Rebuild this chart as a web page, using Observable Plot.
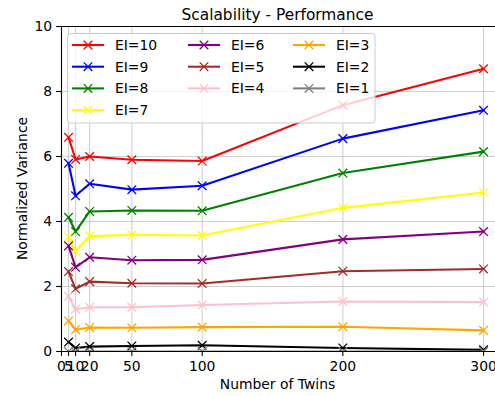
<!DOCTYPE html>
<html>
<head>
<meta charset="utf-8">
<script src="https://cdn.jsdelivr.net/npm/d3@7"></script>
<script src="https://cdn.jsdelivr.net/npm/@observablehq/plot@0.6"></script>
<style>
  html, body { margin: 0; padding: 0; background: #fff; overflow: hidden; }
</style>
</head>
<body>
<div id="chart"></div>
<script>
// ---- data ----
const twins = [5, 10, 20, 50, 100, 200, 300];
const xTicks = [0, 5, 10, 20, 50, 100, 200, 300];
const yTicks = [0, 2, 4, 6, 8, 10];
const seriesNames = ["EI=10", "EI=9", "EI=8", "EI=7", "EI=6", "EI=5", "EI=4", "EI=3", "EI=2", "EI=1"];
const seriesColors = ["#ff0000", "#0000ff", "#008000", "#ffff00", "#800080", "#a52a2a", "#ffc0cb", "#ffa500", "#000000", "#808080"];
const EI10 = [6.59, 5.91, 6.00, 5.90, 5.86, 7.58, 8.70];
const EI9  = [5.79, 4.79, 5.16, 4.98, 5.10, 6.55, 7.42];
const EI8  = [4.13, 3.69, 4.31, 4.34, 4.33, 5.49, 6.15];
const EI7  = [3.52, 3.09, 3.55, 3.59, 3.57, 4.42, 4.89];
const EI6  = [3.25, 2.59, 2.90, 2.81, 2.82, 3.45, 3.69];
const EI5  = [2.46, 1.93, 2.15, 2.10, 2.09, 2.47, 2.54];
const EI4  = [1.70, 1.30, 1.36, 1.36, 1.43, 1.54, 1.52];
const EI3  = [0.94, 0.67, 0.74, 0.73, 0.75, 0.76, 0.65];
const EI2  = [0.29, 0.11, 0.15, 0.17, 0.19, 0.11, 0.05];
const EI1  = [0.00, 0.00, 0.00, 0.00, 0.00, 0.00, 0.00];
const seriesValues = [EI10, EI9, EI8, EI7, EI6, EI5, EI4, EI3, EI2, EI1];

const titleText = "Scalability - Performance";
const xLabel = "Number of Twins";
const yLabel = "Normalized Variance";

// ---- build table ----
const tables = seriesNames.map((name, i) =>
  twins.map((t, j) => ({series: name, twins: t, value: seriesValues[i][j]})));

const W = 495, H = 396;
const mL = 61, mR = 0, mT = 26, mB = 45;
const font = "DejaVu Sans, sans-serif";

const seriesMarks = tables.flatMap((rows) => [
  Plot.line(rows, {x: "twins", y: "value", stroke: "series", strokeWidth: 2.08, clip: true}),
  Plot.dot(rows, {x: "twins", y: "value", stroke: "series", symbol: "times", r: 4, strokeWidth: 1.3, clip: true})
]);

const svg = Plot.plot({
  width: W,
  height: H,
  marginLeft: mL,
  marginRight: mR,
  marginTop: mT,
  marginBottom: mB,
  style: {fontFamily: font, fontSize: "13.9px", color: "#000", background: "#fff", overflow: "visible"},
  x: {domain: [0, 308.5], label: null},
  y: {domain: [0, 10], label: null},
  color: {domain: seriesNames, range: seriesColors},
  marks: [
    Plot.gridX(xTicks, {stroke: "#b0b0b0", strokeOpacity: 0.6, strokeWidth: 1.1}),
    Plot.gridY(yTicks, {stroke: "#b0b0b0", strokeOpacity: 0.6, strokeWidth: 1.1}),
    ...seriesMarks,
    Plot.ruleX([0], {stroke: "#000", strokeWidth: 1.1}),
    Plot.ruleY([0, 10], {stroke: "#000", strokeWidth: 1.1}),
    Plot.axisX(xTicks, {tickSize: 4.9, tickPadding: 4.4, fontSize: 13.9, strokeWidth: 1.1, label: null}),
    Plot.axisY(yTicks, {tickSize: 4.9, tickPadding: 4.4, fontSize: 13.9, strokeWidth: 1.1, label: null})
  ]
});

const s = d3.select(svg);
const cx = (mL + 494) / 2;

// title
s.append("text").attr("x", cx).attr("y", 20).attr("text-anchor", "middle")
  .attr("font-family", font).attr("font-size", 15.4).attr("fill", "#000").text(titleText);
// x label
s.append("text").attr("x", cx).attr("y", 388.5).attr("text-anchor", "middle")
  .attr("font-family", font).attr("font-size", 13.9).attr("fill", "#000").text(xLabel);
// y label
s.append("text").attr("transform", `translate(26.5,${(mT + H - mB) / 2}) rotate(-90)`)
  .attr("text-anchor", "middle").attr("font-family", font).attr("font-size", 13.9)
  .attr("fill", "#000").text(yLabel);

// legend
const lg = s.append("g");
lg.append("rect").attr("x", 67.5).attr("y", 33.5).attr("width", 307.5).attr("height", 89.5)
  .attr("rx", 3).attr("fill", "#fff").attr("fill-opacity", 0.8)
  .attr("stroke", "#cccccc").attr("stroke-width", 1);
const colX = [72, 188, 293];
const perCol = [4, 3, 3];
let k = 0;
perCol.forEach((n, c) => {
  for (let r = 0; r < n; r++, k++) {
    const y = 45 + r * 21.7;
    const x0 = colX[c];
    lg.append("line").attr("x1", x0).attr("x2", x0 + 32).attr("y1", y).attr("y2", y)
      .attr("stroke", seriesColors[k]).attr("stroke-width", 2.08);
    const m = x0 + 16, h = 4.3;
    lg.append("path").attr("d", `M${m - h},${y - h}L${m + h},${y + h}M${m - h},${y + h}L${m + h},${y - h}`)
      .attr("stroke", seriesColors[k]).attr("stroke-width", 1.3).attr("fill", "none");
    lg.append("text").attr("x", x0 + 43).attr("y", y + 5).attr("text-anchor", "start")
      .attr("font-family", font).attr("font-size", 13.9).attr("fill", "#000").text(seriesNames[k]);
  }
});

document.getElementById("chart").appendChild(svg);
</script>
</body>
</html>
